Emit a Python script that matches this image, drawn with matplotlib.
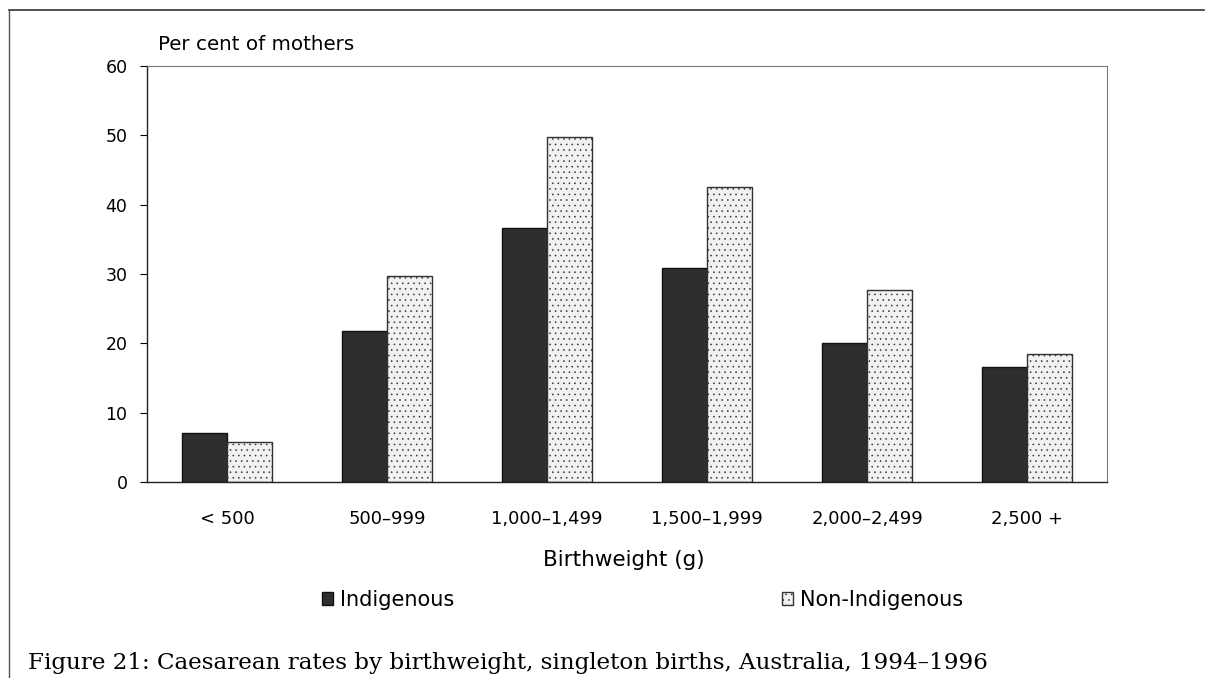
import matplotlib
matplotlib.use("Agg")
import matplotlib.pyplot as plt
from matplotlib.lines import Line2D
import numpy as np

categories = ["< 500", "500\u2013999", "1,000\u20131,499", "1,500\u20131,999", "2,000\u20132,499", "2,500 +"]
indigenous = [7.0, 21.8, 36.6, 30.9, 20.1, 16.6]
non_indigenous = [5.8, 29.7, 49.7, 42.5, 27.7, 18.4]
yticks = [0, 10, 20, 30, 40, 50, 60]

plt.rcParams['font.family'] = ['DejaVu Sans']
plt.rcParams['hatch.linewidth'] = 0.4

W, H = 1206, 678
fig = plt.figure(figsize=(W/100, H/100), dpi=100)
ax = fig.add_axes([147/W, 1-482/H, 960/W, 416/H])

x = np.arange(len(categories))
w = 0.28
b1 = ax.bar(x - w/2, indigenous, w, color='#2e2e2e', edgecolor='#111111', linewidth=1.0, label='Indigenous')
b2 = ax.bar(x + w/2, non_indigenous, w, color='#f1f1f1', edgecolor='#333333', linewidth=1.0,
            hatch='...', label='Non-Indigenous')

ax.set_xlim(-0.5, len(categories) - 0.5)
ax.set_ylim(0, 60)
ax.set_yticks(yticks)
ax.set_xticks(x)
ax.set_xticklabels(categories, fontsize=13)
ax.tick_params(axis='x', length=0, pad=20)
ax.tick_params(axis='y', length=5, width=0.8, direction='out', labelsize=12.5, pad=9)
for s in ['left', 'bottom']:
    ax.spines[s].set_color('#222222')
    ax.spines[s].set_linewidth(1.0)
for s in ['top', 'right']:
    ax.spines[s].set_color('#7a7a7a')
    ax.spines[s].set_linewidth(0.8)

fig.text(158/W, 1-45/H, "Per cent of mothers", fontsize=14.3, ha='left', va='center')
fig.text(624/W, 1-560/H, "Birthweight (g)", fontsize=15.5, ha='center', va='center')

common = dict(frameon=False, fontsize=15, handlelength=0.55, handleheight=0.55,
              handletextpad=0.3, borderaxespad=0, borderpad=0, loc='center left')
fig.legend(handles=[b1], labels=['Indigenous'], bbox_to_anchor=(322/W, 1-600/H), **common)
fig.legend(handles=[b2], labels=['Non-Indigenous'], bbox_to_anchor=(782/W, 1-600/H), **common)

fig.text(28/W, 1-663/H,
         "Figure 21: Caesarean rates by birthweight, singleton births, Australia, 1994\u20131996",
         fontsize=16.6, ha='left', va='center', family=['DejaVu Serif'])

# outer frame lines (scanned page border)
fig.add_artist(Line2D([9/W, 1204/W], [1-10/H, 1-10/H], color='#333333', lw=1.2, transform=fig.transFigure))
fig.add_artist(Line2D([9/W, 9/W], [1-10/H, 0], color='#555555', lw=1.0, transform=fig.transFigure))

fig.savefig("out.png", dpi=100)
